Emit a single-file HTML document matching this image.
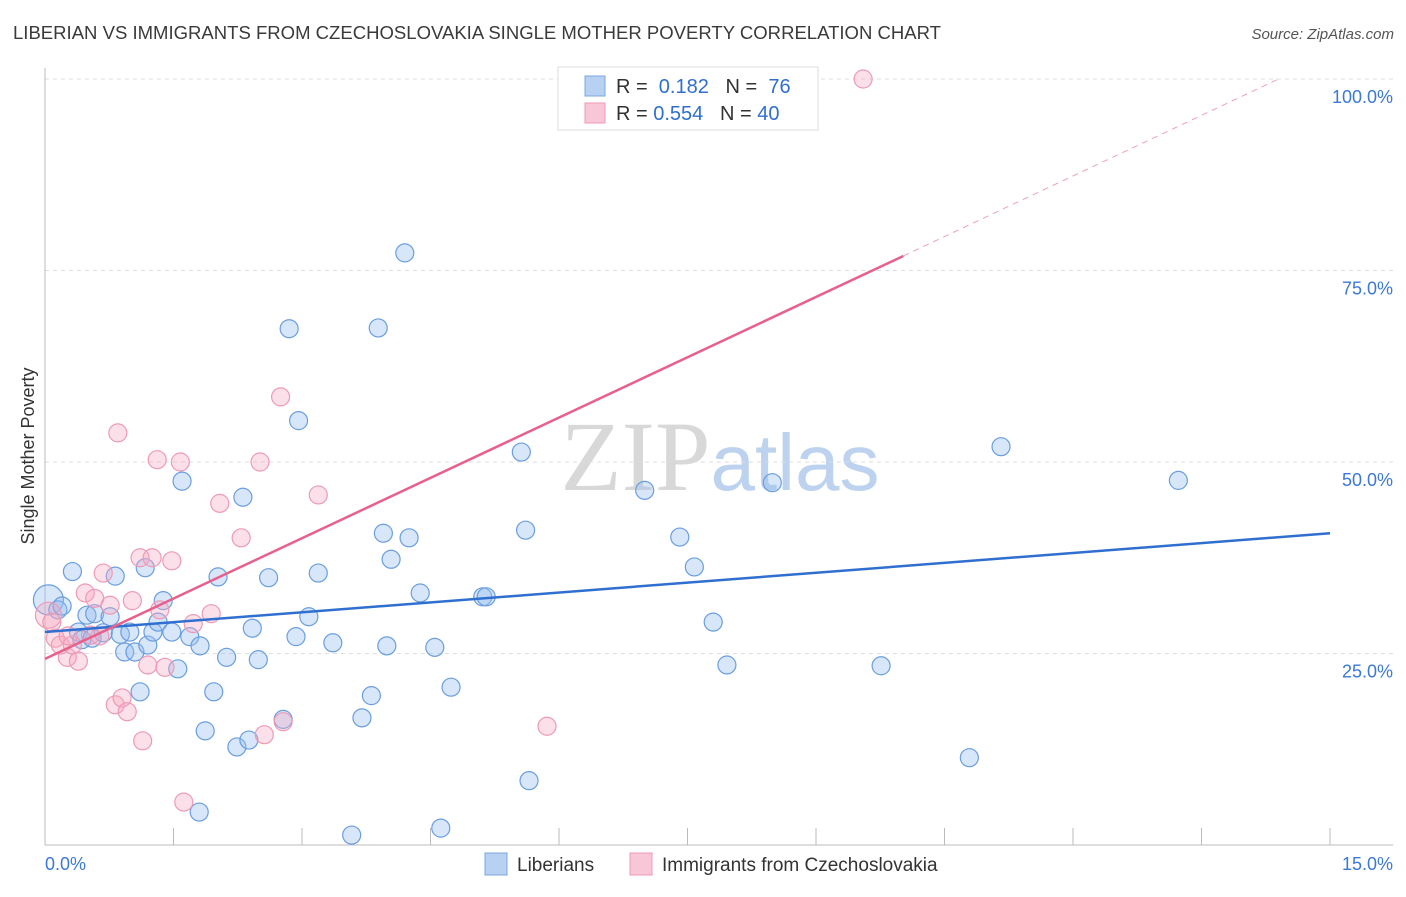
<!DOCTYPE html>
<html><head><meta charset="utf-8"><style>
body{margin:0;background:#fff;font-family:"Liberation Sans",sans-serif;}
svg text{font-family:"Liberation Sans",sans-serif;}
</style></head><body>
<svg id="chart" width="1406" height="892" xmlns="http://www.w3.org/2000/svg">
<text x="13" y="39" font-size="18" fill="#3a3a3a" textLength="928" lengthAdjust="spacingAndGlyphs">LIBERIAN VS IMMIGRANTS FROM CZECHOSLOVAKIA SINGLE MOTHER POVERTY CORRELATION CHART</text>
<text x="1394" y="39" font-size="15" fill="#555" text-anchor="end" font-style="italic">Source: ZipAtlas.com</text>
<text x="720" y="490" font-size="100" text-anchor="middle"><tspan fill="#d8d8d8" font-family="Liberation Serif">ZIP</tspan><tspan fill="#bcd2ef" font-size="80">atlas</tspan></text>
<text transform="translate(34,456) rotate(-90)" font-size="18" fill="#333" text-anchor="middle">Single Mother Poverty</text>
<g id="grid"></g><g id="axes"></g><g id="pts"></g><g id="trends"></g>
<g>
<rect x="558" y="67" width="260" height="63" fill="#fff" stroke="#ddd"/>
<rect x="585" y="76" width="20" height="20" fill="#b8d1f3" stroke="#7aa7e3"/>
<rect x="585" y="103" width="20" height="20" fill="#f8c6d6" stroke="#ee9ab5"/>
<text x="616" y="93" font-size="20" fill="#333">R = <tspan fill="#2f6fd0">&#160;0.182</tspan>&#160;&#160;&#160;N = <tspan fill="#2f6fd0">&#160;76</tspan></text>
<text x="616" y="120" font-size="20" fill="#333">R = <tspan fill="#2f6fd0">0.554</tspan>&#160;&#160;&#160;N = <tspan fill="#2f6fd0">40</tspan></text>
</g>
<g>
<rect x="485" y="853" width="22" height="22" fill="#b8d1f3" stroke="#7aa7e3"/>
<text x="517" y="871" font-size="19" fill="#333">Liberians</text>
<rect x="630" y="853" width="22" height="22" fill="#f8c6d6" stroke="#ee9ab5"/>
<text x="662" y="871" font-size="19" fill="#333">Immigrants from Czechoslovakia</text>
</g>
</svg>
<script>
const blueX=[0.04,0.15,0.20,0.32,0.39,0.49,0.43,0.58,0.55,0.68,0.76,0.82,0.88,0.93,0.99,1.05,1.11,1.17,1.20,1.26,1.32,1.38,1.48,1.55,1.60,1.69,1.81,1.87,1.97,2.02,2.12,2.24,2.31,2.38,2.42,2.49,2.61,2.78,2.85,2.93,2.96,3.08,3.19,3.36,3.58,3.70,3.81,3.89,3.95,3.99,4.04,4.20,4.25,4.38,4.55,4.62,4.74,5.11,5.15,5.56,5.61,5.65,7.00,7.41,7.58,7.80,7.96,8.49,9.76,10.79,11.16,13.23,1.80];
const blueY=[32.0,30.7,31.2,35.7,27.8,30.0,26.8,30.2,27.0,27.7,29.8,35.1,27.5,25.2,27.8,25.2,20.0,36.2,26.1,27.8,29.1,31.9,27.8,23.0,47.5,27.2,26.0,14.9,20.0,35.0,24.5,12.8,45.4,13.7,28.3,24.2,34.9,16.4,67.4,27.2,55.4,29.8,35.5,26.4,1.3,16.6,19.5,67.5,40.7,26.0,37.3,77.3,40.1,32.9,25.8,2.2,20.6,32.4,32.4,51.3,41.1,8.4,46.3,40.2,36.3,29.1,23.5,47.3,23.4,11.4,52.0,47.6,4.3];
const pinkX=[0.04,0.08,0.12,0.18,0.26,0.32,0.39,0.47,0.53,0.58,0.64,0.68,0.76,0.82,0.85,0.90,0.96,1.02,1.11,1.14,1.20,1.25,1.31,1.34,1.40,1.48,1.58,1.62,1.73,1.94,2.04,2.29,2.51,2.75,2.78,2.56,3.19,5.86,9.55,0.27];
const pinkY=[30.0,29.1,27.0,26.1,24.5,26.1,24.0,32.9,27.4,32.2,27.3,35.5,31.3,18.3,53.8,19.2,17.4,31.9,37.5,13.6,23.5,37.5,50.3,30.7,23.2,37.1,50.0,5.6,28.9,30.2,44.6,40.1,50.0,58.5,16.1,14.4,45.7,15.5,100.0,27.3];
const yTicks=[25,50,75,100];
const xTicks=[0,1.5,3,4.5,6,7.5,9,10.5,12,13.5,15];
const blueTrend=[[0,27.8],[15,40.7]];
const pinkTrend=[[0,24.3],[10.02,76.9]];
const pinkDash=[[10.02,76.9],[14.4,100]];
const X=v=>45+v/15*1285, Y=v=>845-v*7.66;
const NS="http://www.w3.org/2000/svg";
function mk(p,t,a){const e=document.createElementNS(NS,t);for(const k in a)e.setAttribute(k,a[k]);document.getElementById(p).appendChild(e);return e;}
yTicks.forEach(t=>{
 const l=mk('grid','line',{x1:45,x2:1393,y1:Y(t),y2:Y(t),stroke:'#ddd','stroke-dasharray':'4,4'});
 
 
 const tx=mk('grid','text',{x:1393,y:Y(t)+24,'font-size':18,fill:'#3b78d8','text-anchor':'end'});
 tx.textContent=t.toFixed(1)+'%';
 
 
});
let a=mk('axes','line',{x1:45,x2:45,y1:68,y2:845,stroke:'#bbb'});


a=mk('axes','line',{x1:45,x2:1393,y1:845,y2:845,stroke:'#bbb'});


xTicks.forEach(t=>{if(t>0){const l=mk('axes','line',{x1:X(t),x2:X(t),y1:828,y2:845,stroke:'#bbb'});
 
 }});
[[0,'0.0%','start',45],[15,'15.0%','end',1393]].forEach(d=>{
 const tx=mk('axes','text',{x:d[3],y:870,'font-size':18,fill:'#3b78d8','text-anchor':d[2]});tx.textContent=d[1];
 
 
});
blueX.forEach((v,i)=>{
 const c=mk('pts','circle',{cx:X(v),cy:Y(blueY[i]),r:i==0?15:9,fill:'rgba(150,190,240,0.38)',stroke:'#6a9ee0','stroke-width':1.2});
 
 
});
pinkX.forEach((v,i)=>{
 const c=mk('pts','circle',{cx:X(v),cy:Y(pinkY[i]),r:i==0?13:9,fill:'rgba(245,165,192,0.35)',stroke:'#ee9ab5','stroke-width':1.2});
 
 
});
let t=mk('trends','line',{x1:X(blueTrend[0][0]),y1:Y(blueTrend[0][1]),x2:X(blueTrend[1][0]),y2:Y(blueTrend[1][1]),stroke:'#2f6fd0','stroke-width':2.5});


t=mk('trends','line',{x1:X(pinkTrend[0][0]),y1:Y(pinkTrend[0][1]),x2:X(pinkTrend[1][0]),y2:Y(pinkTrend[1][1]),stroke:'#e8608c','stroke-width':2.5});


t=mk('trends','line',{x1:X(pinkDash[0][0]),y1:Y(pinkDash[0][1]),x2:X(pinkDash[1][0]),y2:Y(pinkDash[1][1]),stroke:'#f0a0b8','stroke-width':1,'stroke-dasharray':'6,5'});


</script>
</body></html>
